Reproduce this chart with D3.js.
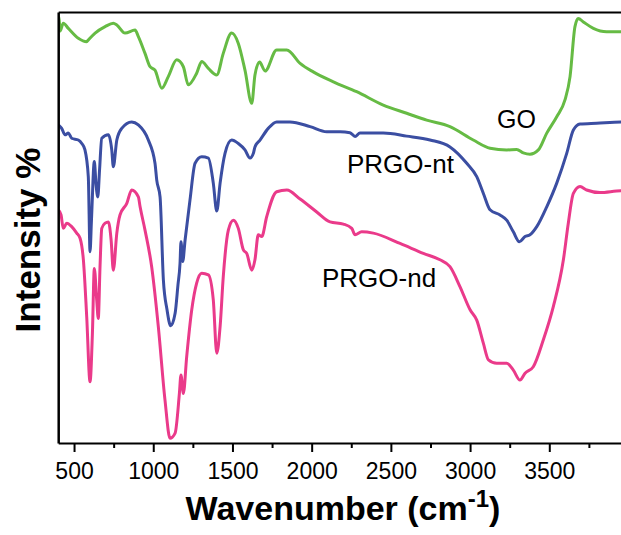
<!DOCTYPE html>
<html>
<head>
<meta charset="utf-8">
<script src="https://cdn.jsdelivr.net/npm/d3@7"></script>
<style>
  html, body { margin: 0; padding: 0; background: #fff; }
  svg { display: block; }
</style>
</head>
<body>
<svg id="chart" width="621" height="535"></svg>
<script>
// Wavenumber (cm^-1) / intensity (%) pairs
const goWave = [402,405,412,432,464,527,580,590,633,696,748,770,822,885,906,948,980,1011,1054,1095,1148,1190,1221,1274,1306,1348,1401,1442,1495,1537,1579,1622,1642,1671,1706,1779,1843,1927,2010,2137,2284,2452,2600,2726,2873,3020,3126,3231,3294,3336,3378,3431,3484,3547,3599,3631,3662,3683,3715,3778,3862,3953,4000];
const goInt  = [97.0,98.8,95.6,97.4,96.2,93.9,93.1,93.5,95.1,96.6,97.4,97.0,95.1,95.8,94.3,90.4,87.3,86.5,82.3,85.0,88.9,87.3,83.1,85.8,88.5,86.9,85.4,90.4,95.1,92.7,86.5,78.8,85.4,88.4,86.3,91.2,91.2,88.1,86.1,83.8,81.5,78.4,76.5,74.9,73.4,70.3,68.4,68.0,68.1,67.3,67.0,68.0,71.9,75.7,79.6,85.0,96.6,98.5,97.7,96.2,95.4,95.4,95.4];

const ntWave = [401,422,443,464,485,527,549,569,590,601,610,628,639,650,661,675,717,738,748,770,801,864,906,969,1011,1022,1043,1064,1087,1110,1138,1156,1169,1175,1186,1201,1232,1264,1306,1348,1379,1401,1422,1453,1495,1537,1579,1611,1632,1642,1674,1726,1779,1863,1990,2095,2179,2242,2274,2305,2452,2600,2747,2873,2979,3042,3084,3126,3189,3231,3273,3311,3347,3378,3421,3484,3547,3610,3652,3694,3799,3953,4000];
const ntInt  = [73.8,73.0,71.5,71.9,70.7,70.3,69.5,68.0,61.8,44.4,51.7,65.3,59.9,57.1,63.3,70.7,71.5,68.0,64.1,70.3,73.0,74.5,73.8,70.3,64.9,61.0,57.1,37.8,30.9,27.2,30.1,36.7,41.7,46.7,42.1,47.1,56.4,64.9,66.4,66.1,60.3,53.8,60.3,67.2,70.3,69.5,68.0,66.1,67.2,68.7,70.3,73.0,74.5,74.5,73.4,72.2,72.2,72.0,71.1,71.9,71.9,71.2,70.3,68.7,64.9,61.8,57.9,54.1,52.9,51.7,49.0,46.7,47.9,48.3,50.2,54.8,60.3,67.2,72.6,74.0,74.2,74.5,74.5];

const ndWave = [401,418,432,454,485,517,538,559,580,601,616,628,643,653,664,675,696,717,734,748,770,790,833,864,906,917,948,990,1032,1074,1106,1138,1165,1175,1190,1211,1243,1274,1306,1348,1379,1401,1422,1442,1474,1506,1537,1569,1590,1622,1642,1663,1685,1716,1779,1843,1927,2032,2116,2200,2253,2274,2316,2389,2558,2705,2810,2873,2936,3000,3042,3084,3116,3168,3231,3273,3315,3347,3399,3462,3525,3589,3620,3652,3694,3736,3820,3953,4000];
const ndInt  = [54.1,52.9,49.8,51.0,50.2,48.7,47.5,42.5,29.3,14.2,25.5,40.5,33.2,28.9,40.9,49.8,51.0,51.3,47.1,40.1,48.7,52.9,55.6,58.7,57.1,54.8,49.4,40.9,27.0,10.0,1.1,2.3,11.5,15.8,11.5,20.0,30.9,37.1,39.4,39.0,33.2,20.8,27.0,38.6,49.4,51.7,49.8,44.8,44.0,40.1,42.5,48.3,47.9,52.5,58.3,58.7,56.6,53.6,51.3,50.8,49.8,48.3,49.0,48.7,46.3,44.0,42.5,40.9,36.3,30.9,28.5,23.1,19.3,18.5,18.5,16.9,14.6,16.2,17.7,23.9,31.6,42.5,51.0,57.9,59.5,58.7,58.1,58.5,58.5];

const seriesNames  = ["GO", "PRGO-nt", "PRGO-nd"];
const seriesColors = ["#66bb44", "#3b4ea2", "#ea3a8a"];
// label anchor positions in data units (wavenumber, intensity)
const labelWave = [3170, 2223, 2065];
const labelInt  = [73.1, 62.6, 36.2];
const majorTicks = [500, 1000, 1500, 2000, 2500, 3000, 3500];
const minorTicks = [750, 1250, 1750, 2250, 2750, 3250, 3750];
const xDomain = [400, 4000];
const yDomain = [0, 100];

const svg = d3.select("#chart");
const mLeft = 58.2, mRight = 628.5, mTop = 12, mBottom = 443;

const x = d3.scaleLinear().domain(xDomain).range([mLeft, mRight]);
const y = d3.scaleLinear().domain(yDomain).range([mBottom, mTop]);

const font = "'Liberation Sans', Arial, Helvetica, sans-serif";

const series = seriesNames.map((n, i) => ({
  name: n, color: seriesColors[i],
  w: [goWave, ntWave, ndWave][i], v: [goInt, ntInt, ndInt][i]
}));
const line = d3.line().x(d => x(d[0])).y(d => y(d[1])).curve(d3.curveMonotoneX);

svg.append("clipPath").attr("id", "clip")
  .append("rect").attr("x", mLeft).attr("y", mTop).attr("width", mRight - mLeft).attr("height", mBottom - mTop);

const g = svg.append("g").attr("clip-path", "url(#clip)");
series.forEach(s => {
  g.append("path")
    .datum(s.w.map((w, i) => [w, s.v[i]]))
    .attr("d", line)
    .attr("fill", "none")
    .attr("stroke", s.color)
    .attr("stroke-width", 3)
    .attr("stroke-linejoin", "round")
    .attr("stroke-linecap", "round");
});

// bottom axis
const xAxis = d3.axisBottom(x).tickValues(majorTicks).tickSize(9).tickSizeOuter(0).tickFormat(d3.format("d"));
const ax = svg.append("g").attr("transform", `translate(0,${mBottom})`).call(xAxis);
ax.select(".domain").attr("stroke", "#000").attr("stroke-width", 2);
ax.selectAll(".tick line").attr("stroke", "#000").attr("stroke-width", 2);
ax.selectAll(".tick text").attr("font-family", font).attr("font-size", 23).attr("fill", "#000").attr("dy", "0").attr("y", 36);

const axMinor = d3.axisBottom(x).tickValues(minorTicks).tickSize(5).tickSizeOuter(0).tickFormat("");
const am = svg.append("g").attr("transform", `translate(0,${mBottom})`).call(axMinor);
am.select(".domain").remove();
am.selectAll(".tick line").attr("stroke", "#000").attr("stroke-width", 2);

// left axis line (no ticks) and top border
const yAxis = d3.axisLeft(y).tickValues([]).tickSizeOuter(0);
const ay = svg.append("g").attr("transform", `translate(${mLeft},0)`).call(yAxis);
ay.select(".domain").attr("stroke", "#000").attr("stroke-width", 2.5);
const topAxis = d3.axisTop(x).tickValues([]).tickSizeOuter(0);
const at = svg.append("g").attr("transform", `translate(0,${mTop})`).call(topAxis);
at.select(".domain").attr("stroke", "#000").attr("stroke-width", 2);

// series labels
series.forEach((s, i) => {
  svg.append("text")
    .attr("x", x(labelWave[i]))
    .attr("y", y(labelInt[i]))
    .attr("font-family", font)
    .attr("font-size", i === 0 ? 25 : 26)
    .attr("fill", "#000")
    .text(s.name);
});

// axis titles
const xt = svg.append("text")
  .attr("x", 343).attr("y", 520)
  .attr("text-anchor", "middle")
  .attr("font-family", font)
  .attr("font-weight", "bold")
  .attr("font-size", 34)
  .attr("fill", "#000");
xt.append("tspan").text("Wavenumber (cm");
xt.append("tspan").attr("font-size", 24).attr("dy", -13).text("-1");
xt.append("tspan").attr("dy", 13).text(")");

svg.append("text")
  .attr("transform", "translate(40,240) rotate(-90)")
  .attr("text-anchor", "middle")
  .attr("font-family", font)
  .attr("font-weight", "bold")
  .attr("font-size", 35)
  .attr("fill", "#000")
  .text("Intensity %");
</script>
</body>
</html>
